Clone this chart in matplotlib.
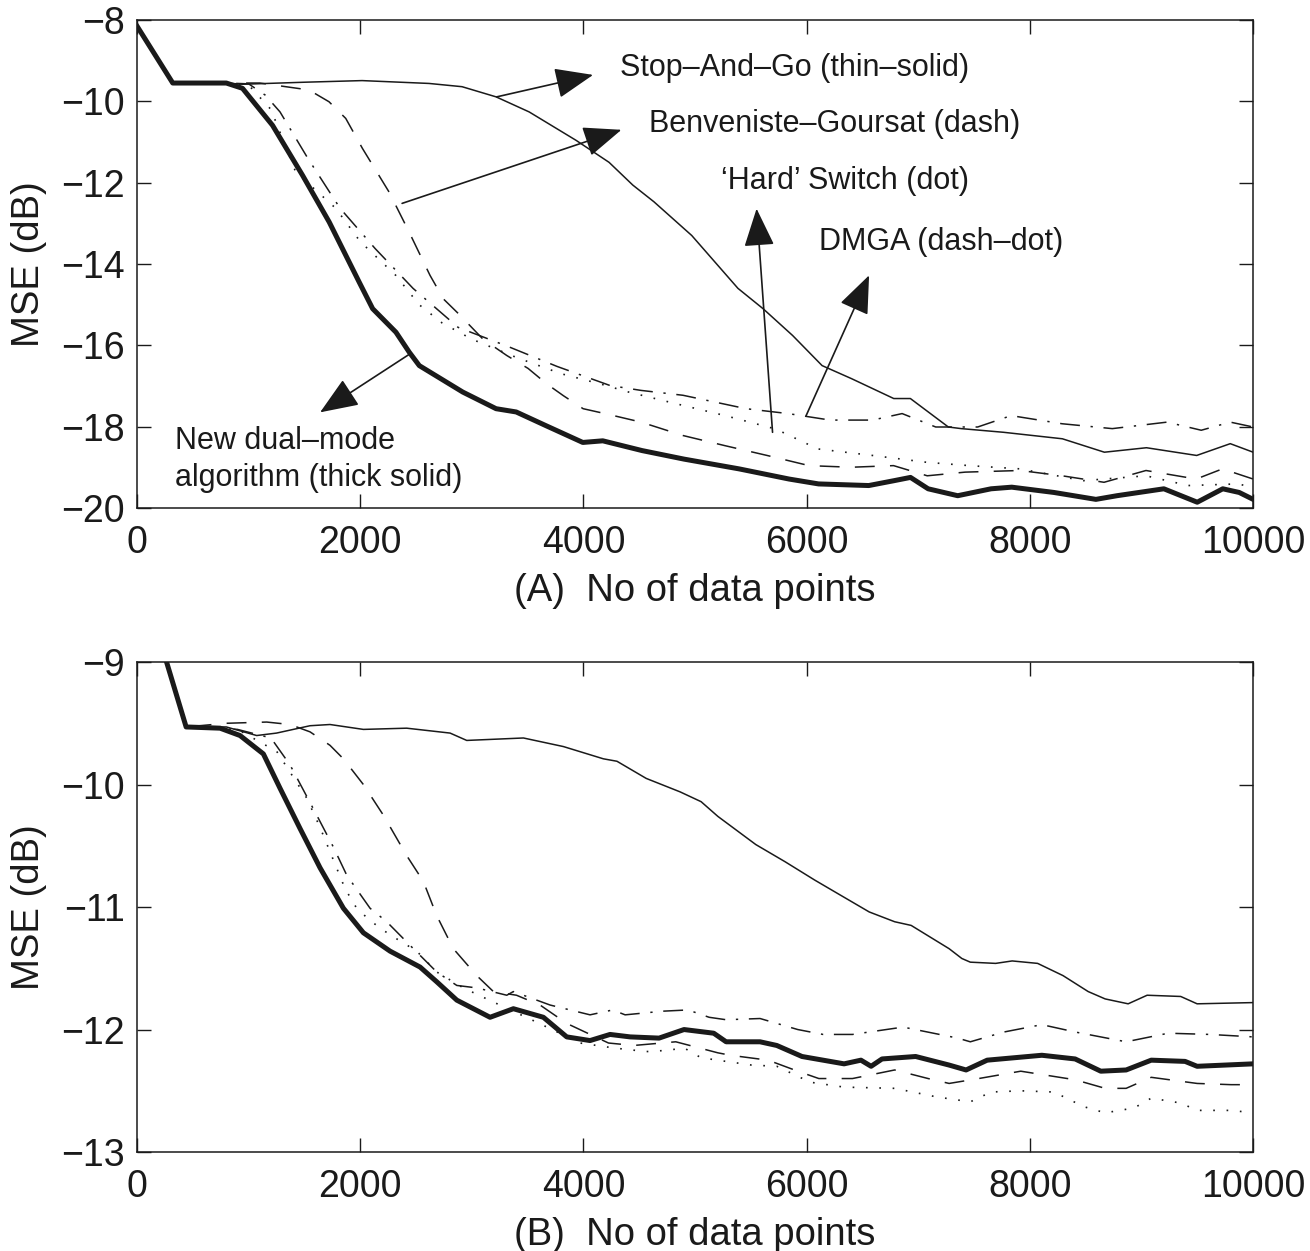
import matplotlib
matplotlib.use('Agg')

import matplotlib.pyplot as plt

plt.rcParams['font.family'] = ['Liberation Sans', 'DejaVu Sans']

# === Panel A data (x = data points, y = MSE in dB) ===
thick_a_x = [0, 320, 800, 945, 1214, 1483, 1722, 1991, 2111, 2320, 2439, 2529, 2918, 3217, 3397,
             3666, 3994, 4173, 4525, 4901, 5394, 5842, 6106, 6556, 6783, 6930, 7088, 7353, 7652,
             7837, 8215, 8591, 8780, 9200, 9499, 9728, 9875, 10000]
thick_a_y = [-8.15, -9.55, -9.55, -9.68, -10.59, -11.82, -12.97, -14.45, -15.10, -15.68, -16.17,
             -16.50, -17.15, -17.56, -17.64, -17.98, -18.39, -18.35, -18.59, -18.80, -19.04, -19.29,
             -19.41, -19.45, -19.33, -19.25, -19.53, -19.70, -19.53, -19.49, -19.62, -19.79, -19.70,
             -19.53, -19.86, -19.53, -19.62, -19.79]

thin_a_x = [0, 320, 800, 945, 1500, 2016, 2616, 2912, 3217, 3513, 3934, 4229, 4442, 4631, 4970,
            5384, 5609, 5874, 6138, 6401, 6780, 6929, 7269, 7385, 7763, 8291, 8667, 9044, 9494,
            9795, 10000]
thin_a_y = [-8.15, -9.55, -9.55, -9.58, -9.53, -9.49, -9.56, -9.64, -9.89, -10.26, -10.96, -11.50,
            -12.06, -12.47, -13.30, -14.60, -15.10, -15.76, -16.50, -16.82, -17.31, -17.31, -18.01,
            -18.05, -18.14, -18.30, -18.63, -18.52, -18.71, -18.42, -18.63]

dash_a_x = [0, 320, 800, 1100, 1540, 1720, 1870, 2020, 2258, 2437, 2625, 2745, 2879, 3100, 3312,
            3504, 3671, 3820, 3997, 4208, 4516, 4892, 5269, 5645, 6021, 6398, 6778, 7080, 7420,
            7912, 8288, 8664, 9040, 9490, 9725, 10000]
dash_a_y = [-8.15, -9.55, -9.55, -9.55, -9.72, -10.01, -10.42, -11.16, -12.23, -13.21, -14.28,
            -14.86, -15.22, -15.85, -16.25, -16.57, -16.95, -17.24, -17.56, -17.69, -17.89, -18.22,
            -18.47, -18.71, -18.96, -19.00, -18.96, -19.21, -19.12, -19.08, -19.21, -19.37, -19.08,
            -19.29, -19.04, -19.29]

dot_a_x = [0, 320, 800, 1000, 1200, 1422, 1780, 2000, 2318, 2527, 2733, 3000, 3400, 3800, 4150,
           4404, 4818, 5269, 5723, 6100, 6590, 7080, 7456, 7912, 8477, 9040, 9418, 9866, 10000]
dot_a_y = [-8.15, -9.55, -9.55, -9.60, -10.20, -11.74, -12.63, -13.45, -14.28, -15.00, -15.45,
           -15.85, -16.30, -16.70, -16.95, -17.15, -17.43, -17.73, -18.06, -18.55, -18.71, -18.88,
           -18.96, -19.04, -19.33, -19.21, -19.45, -19.41, -19.50]

dashdot_a_x = [0, 320, 800, 1000, 1150, 1281, 1530, 1819, 2133, 2473, 2877, 3324, 3763, 4238,
               4516, 4892, 5457, 5833, 6210, 6590, 6855, 7156, 7532, 7832, 8288, 8738, 9229,
               9535, 9795, 10000]
dashdot_a_y = [-8.15, -9.55, -9.55, -9.57, -9.85, -10.26, -11.40, -12.63, -13.62, -14.60, -15.56,
               -16.03, -16.52, -16.99, -17.11, -17.23, -17.56, -17.68, -17.84, -17.84, -17.68,
               -18.01, -18.01, -17.73, -17.93, -18.05, -17.89, -18.09, -17.89, -18.01]

# === Panel B data ===
thick_b_x = [0, 440, 744, 923, 1132, 1281, 1461, 1640, 1849, 2028, 2267, 2536, 2685, 2865, 3163,
             3372, 3641, 3850, 4059, 4238, 4418, 4677, 4901, 5167, 5278, 5582, 5732, 5958, 6335,
             6486, 6577, 6675, 6976, 7276, 7428, 7617, 8107, 8405, 8635, 8862, 9087, 9390, 9498,
             10000]
thick_b_y = [-8.2, -9.53, -9.54, -9.60, -9.75, -10.03, -10.36, -10.68, -11.01, -11.21, -11.36,
             -11.49, -11.61, -11.76, -11.90, -11.83, -11.90, -12.06, -12.09, -12.04, -12.06, -12.07,
             -12.00, -12.03, -12.10, -12.10, -12.13, -12.22, -12.28, -12.25, -12.30, -12.24, -12.22,
             -12.29, -12.33, -12.25, -12.21, -12.24, -12.34, -12.33, -12.25, -12.26, -12.30, -12.28]

thin_b_x = [0, 440, 800, 1072, 1250, 1550, 1729, 2028, 2416, 2805, 2954, 3462, 3820, 4178, 4300,
            4562, 4866, 5054, 5204, 5544, 5806, 6072, 6297, 6560, 6788, 6936, 7276, 7390, 7466,
            7693, 7841, 8069, 8297, 8522, 8674, 8880, 9050, 9351, 9498, 10000]
thin_b_y = [-8.2, -9.53, -9.53, -9.60, -9.58, -9.52, -9.51, -9.55, -9.54, -9.58, -9.64, -9.62,
            -9.69, -9.79, -9.81, -9.95, -10.06, -10.14, -10.26, -10.49, -10.63, -10.78, -10.90,
            -11.04, -11.12, -11.15, -11.34, -11.42, -11.45, -11.46, -11.44, -11.46, -11.56, -11.69,
            -11.75, -11.79, -11.72, -11.73, -11.79, -11.78]

dash_b_x = [0, 440, 800, 1162, 1371, 1550, 1729, 1849, 2028, 2207, 2416, 2565, 2685, 2834, 3044,
            3193, 3400, 3611, 3850, 4224, 4451, 4827, 5204, 5317, 5654, 5920, 6109, 6410, 6788,
            7088, 7276, 7541, 7918, 8405, 8674, 8862, 9087, 9498, 9803, 10000]
dash_b_y = [-8.2, -9.53, -9.50, -9.49, -9.51, -9.57, -9.68, -9.79, -10.00, -10.25, -10.58, -10.79,
            -11.07, -11.34, -11.56, -11.69, -11.72, -11.80, -11.95, -12.11, -12.13, -12.10, -12.19,
            -12.21, -12.25, -12.34, -12.40, -12.40, -12.33, -12.40, -12.44, -12.40, -12.34, -12.41,
            -12.48, -12.48, -12.39, -12.44, -12.45, -12.45]

dot_b_x = [0, 440, 900, 1252, 1520, 1640, 1864, 1968, 2088, 2207, 2327, 2506, 2685, 2924, 3133,
           3581, 3970, 4119, 4268, 4562, 4750, 4901, 5053, 5278, 5506, 5732, 6032, 6335, 6788,
           7164, 7466, 7652, 7918, 8215, 8484, 8674, 8934, 9087, 9351, 9498, 9803, 10000]
dot_b_y = [-8.2, -9.53, -9.55, -9.73, -10.11, -10.35, -10.85, -11.01, -11.11, -11.19, -11.26,
           -11.36, -11.53, -11.66, -11.75, -11.94, -12.11, -12.13, -12.15, -12.18, -12.17, -12.15,
           -12.23, -12.26, -12.29, -12.30, -12.43, -12.47, -12.48, -12.55, -12.59, -12.51, -12.50,
           -12.51, -12.63, -12.68, -12.64, -12.56, -12.60, -12.66, -12.66, -12.68]

dashdot_b_x = [0, 440, 900, 1200, 1371, 1610, 1759, 1879, 2088, 2237, 2476, 2685, 2865, 3044,
               3313, 3372, 3701, 4059, 4262, 4373, 4713, 4937, 5126, 5278, 5582, 5920, 6147,
               6410, 6864, 7353, 7466, 7768, 8107, 8405, 8862, 9239, 9615, 10000]
dashdot_b_y = [-8.2, -9.53, -9.55, -9.62, -9.84, -10.25, -10.51, -10.74, -11.01, -11.12, -11.34,
               -11.53, -11.64, -11.66, -11.72, -11.69, -11.80, -11.88, -11.84, -11.88, -11.85,
               -11.84, -11.90, -11.92, -11.91, -12.00, -12.04, -12.04, -11.98, -12.07, -12.10,
               -12.02, -11.96, -12.02, -12.10, -12.03, -12.04, -12.06]

ink = '#1a1a1a'
TICK_FS = 27
LABEL_FS = 27.5
NOTE_FS = 22


def draw_curves(ax, thick, thin, dash, dot, dashdot):
    ax.plot(*thin, color=ink, lw=1.1, zorder=3)
    ax.plot(*dash, color=ink, lw=1.1, dashes=[13, 10], zorder=3)
    ax.plot(*dot, color=ink, lw=1.2, dashes=[1, 7], zorder=3)
    ax.plot(*dashdot, color=ink, lw=1.1, dashes=[13, 7, 1.5, 7], zorder=3)
    ax.plot(*thick, color=ink, lw=3.6, solid_joinstyle='round', zorder=4)


def style_axes(ax, ylim, yticks, xlabel):
    ax.set_xlim(0, 10000)
    ax.set_ylim(*ylim)
    ax.set_xticks(range(0, 10001, 2000))
    ax.set_yticks(yticks)
    ax.tick_params(direction='in', length=10, width=1, top=True, right=True,
                   labelsize=TICK_FS, colors=ink)
    ax.tick_params(axis='x', pad=12)
    ax.tick_params(axis='y', pad=9)
    for sp in ax.spines.values():
        sp.set_linewidth(1.1)
        sp.set_color(ink)
    ax.set_xlabel(xlabel, fontsize=LABEL_FS, color=ink, labelpad=9)
    ax.set_ylabel('MSE (dB)', fontsize=LABEL_FS, color=ink, labelpad=10)


fig = plt.figure(figsize=(13.1, 12.51), dpi=100)
ax_a = fig.add_axes([0.1046, 0.594, 0.852, 0.390])
ax_b = fig.add_axes([0.1046, 0.0791, 0.852, 0.3917])

draw_curves(ax_a, (thick_a_x, thick_a_y), (thin_a_x, thin_a_y), (dash_a_x, dash_a_y),
            (dot_a_x, dot_a_y), (dashdot_a_x, dashdot_a_y))
draw_curves(ax_b, (thick_b_x, thick_b_y), (thin_b_x, thin_b_y), (dash_b_x, dash_b_y),
            (dot_b_x, dot_b_y), (dashdot_b_x, dashdot_b_y))

style_axes(ax_a, (-20, -8), range(-20, -7, 2), '(A)  No of data points')
style_axes(ax_b, (-13, -9), range(-13, -8, 1), '(B)  No of data points')

# === Annotations in panel A ===
arrow = dict(arrowstyle='-|>,head_length=0.6,head_width=0.24', mutation_scale=40,
             color=ink, lw=1.2, shrinkA=0, shrinkB=0)
notes = [
    ('Stop–And–Go (thin–solid)', (3223, -9.89), (4086, -9.35), (4330, -9.18)),
    ('Benveniste–Goursat (dash)', (2375, -12.51), (4340, -10.70), (4590, -10.55)),
    ('‘Hard’ Switch (dot)', (5694, -18.14), (5551, -12.64), (5230, -11.95)),
    ('DMGA (dash–dot)', (5995, -17.73), (6559, -14.28), (6110, -13.47)),
]
for label, tail, head, pos in notes:
    ax_a.annotate('', xy=head, xytext=tail, arrowprops=arrow)
    ax_a.text(pos[0], pos[1], label, fontsize=NOTE_FS, color=ink, va='center', ha='left')

ax_a.annotate('', xy=(1640, -17.65), xytext=(2446, -16.21), arrowprops=arrow)
ax_a.text(340, -18.82, 'New dual–mode\nalgorithm (thick solid)', fontsize=NOTE_FS, color=ink,
          va='center', ha='left', linespacing=1.3)

fig.savefig('out.png', dpi=100, facecolor='white')
